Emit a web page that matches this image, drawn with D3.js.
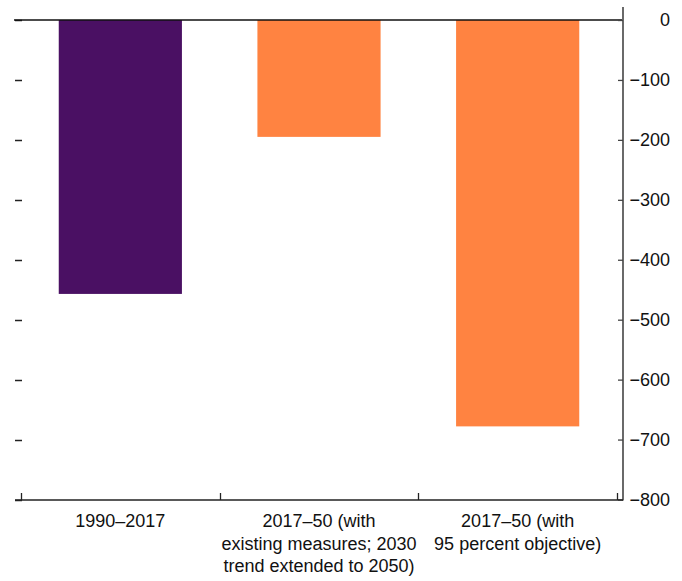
<!DOCTYPE html>
<html><head><meta charset="utf-8">
<script src="https://cdn.jsdelivr.net/npm/d3@7"></script>
<style>
html,body{margin:0;padding:0;background:#fff;}
text{font-family:"Liberation Sans",Arial,sans-serif;}
</style></head>
<body><svg id="c" width="682" height="581"></svg>
<script>
const categories = ["1990–2017", "2017–50 (with existing measures; 2030 trend extended to 2050)", "2017–50 (with 95 percent objective)"];
const labelLines = [["1990–2017"], ["2017–50 (with", "existing measures; 2030", "trend extended to 2050)"], ["2017–50 (with", "95 percent objective)"]];
const values = [-457, -195, -678];
const barColors = ["#4a1063", "#ff8341", "#ff8341"];
const yTicks = [0, -100, -200, -300, -400, -500, -600, -700, -800];

const svg = d3.select("#c");
const pLeft = 21, pRight = 617, pTop = 20, pBottom = 499.5;
const x = d3.scaleBand().domain(categories).range([pLeft, pRight]).paddingInner(0.38).paddingOuter(0.19);
const y = d3.scaleLinear().domain([-800, 0]).range([pBottom, pTop]);
const fs = "18px";

// bars
svg.selectAll("rect.bar").data(values).join("rect")
  .attr("x", (d,i) => x(categories[i]))
  .attr("width", x.bandwidth())
  .attr("y", y(0))
  .attr("height", d => y(d) - y(0))
  .attr("fill", (d,i) => barColors[i]);

// left ticks (no line)
svg.selectAll("line.lt").data(yTicks).join("line")
  .attr("x1", 15).attr("x2", 22)
  .attr("y1", d => Math.round(y(d)) + 0.5).attr("y2", d => Math.round(y(d)) + 0.5)
  .attr("stroke", "#222").attr("stroke-width", 1.5);

// zero line
svg.append("line").attr("x1", 14).attr("x2", 622)
  .attr("y1", y(0)).attr("y2", y(0)).attr("stroke", "#111").attr("stroke-width", 1.5);

// right axis
const ra = svg.append("g").attr("transform", "translate(623,0)")
  .call(d3.axisLeft(y).tickValues(yTicks).tickSize(5).tickFormat(""));
ra.select(".domain").remove();
ra.selectAll(".tick line").attr("stroke", "#444").attr("stroke-width", 1.3);
svg.append("line").attr("x1", 623).attr("x2", 623).attr("y1", 7).attr("y2", 500.5)
  .attr("stroke", "#444").attr("stroke-width", 1.6);
svg.selectAll("text.yl").data(yTicks).join("text")
  .attr("x", 670).attr("y", d => y(d)).attr("dy", "0.36em")
  .attr("text-anchor", "end").attr("font-size", fs).attr("fill", "#111")
  .text(d => d === 0 ? "0" : "−" + Math.abs(d));

// bottom axis
svg.append("line").attr("x1", 15).attr("x2", 623).attr("y1", 500).attr("y2", 500)
  .attr("stroke", "#222").attr("stroke-width", 1.5);
const bticks = categories.map(c => x(c) - x.step() * x.paddingInner() / 2).concat([pRight]);
svg.selectAll("line.bt").data(bticks).join("line")
  .attr("x1", d => Math.round(d) + 0.5).attr("x2", d => Math.round(d) + 0.5)
  .attr("y1", 493).attr("y2", 500).attr("stroke", "#222").attr("stroke-width", 1.3);

// category labels
categories.forEach((c, i) => {
  const t = svg.append("text").attr("text-anchor", "middle").attr("font-size", fs).attr("fill", "#111");
  labelLines[i].forEach((ln, j) => {
    t.append("tspan").attr("x", x(c) + x.bandwidth() / 2).attr("y", 527 + j * 22.5).text(ln);
  });
});
</script></body></html>
